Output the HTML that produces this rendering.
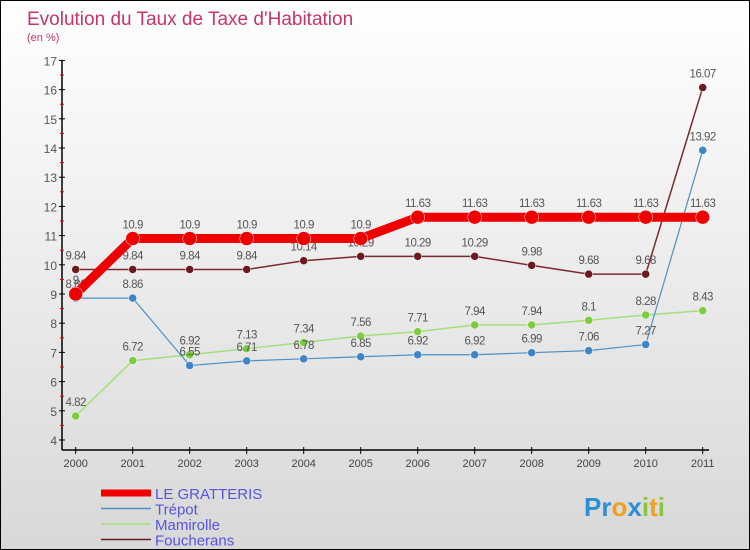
<!DOCTYPE html>
<html><head><meta charset="utf-8"><style>
body{margin:0;}
#c{position:relative;width:748px;height:548px;border:1px solid #000;background:linear-gradient(#fff,#d8d8d8);font-family:"Liberation Sans",sans-serif;overflow:hidden}
</style></head><body>
<div id="c">
<svg id="s" width="748" height="548"></svg>
</div>
<script>
const years=[2000,2001,2002,2003,2004,2005,2006,2007,2008,2009,2010,2011];
const gratteris=[9,10.9,10.9,10.9,10.9,10.9,11.63,11.63,11.63,11.63,11.63,11.63];
const trepot=[8.86,8.86,6.55,6.71,6.78,6.85,6.92,6.92,6.99,7.06,7.27,13.92];
const mamirolle=[4.82,6.72,6.92,7.13,7.34,7.56,7.71,7.94,7.94,8.1,8.28,8.43];
const foucherans=[9.84,9.84,9.84,9.84,10.14,10.29,10.29,10.29,9.98,9.68,9.68,16.07];
const yTicks=[4,5,6,7,8,9,10,11,12,13,14,15,16,17];
const NS="http://www.w3.org/2000/svg";
const s=document.getElementById('s');
const X=i=>74.7+i*57;
const Y=v=>439-(v-4)*29.2;
function el(t,a,txt,name){const e=document.createElementNS(NS,t);for(const k in a)e.setAttribute(k,a[k]);if(txt!==undefined)e.textContent=txt;


s.appendChild(e);return e;}
el('text',{x:26,y:24,fill:'#c8336a','font-size':19},'Evolution du Taux de Taxe d\'Habitation','chart-title');
el('text',{x:26,y:40,fill:'#c8336a','font-size':11},'(en %)','y-unit');
el('line',{x1:61,y1:59,x2:61,y2:449,stroke:'#000','stroke-width':1.5},undefined,'y-axis');
el('line',{x1:61,y1:449,x2:708,y2:449,stroke:'#000','stroke-width':1.5},undefined,'x-axis');
yTicks.forEach(v=>{el('line',{x1:58,y1:Y(v),x2:64,y2:Y(v),stroke:'#000'},undefined,'y-tick');
if(v<17)el('line',{x1:59,y1:Y(v+0.5),x2:63,y2:Y(v+0.5),stroke:'#e00'},undefined,'y-minor-tick');
el('text',{x:56,y:Y(v)+5,'text-anchor':'end','font-size':12,fill:'#555'},v,'y-tick-label');});
years.forEach((yr,i)=>{el('line',{x1:X(i),y1:446,x2:X(i),y2:453,stroke:'#000'},undefined,'x-tick');
el('text',{x:X(i),y:466,'text-anchor':'middle','font-size':11,fill:'#444'},yr,'x-tick-label');});
function series(d,col,pcol,w,r,name){
el('polyline',{points:d.map((v,i)=>X(i)+','+Y(v)).join(' '),fill:'none',stroke:col,'stroke-width':w,'stroke-linejoin':'round'},undefined,name+'-line');
d.forEach((v,i)=>{el('circle',{cx:X(i),cy:Y(v),r:r,fill:pcol,stroke:'#fff','stroke-width':0.5},undefined,name+'-point');
el('text',{x:X(i),y:Y(v)-10,'text-anchor':'middle','font-size':11.5,fill:'#555','letter-spacing':'-0.5'},v,name+'-value-label');});}
series(foucherans,'#7a2a2e','#6b1a1f',1.5,4,'foucherans');
series(mamirolle,'#a3e07a','#7ccc3f',1.5,4,'mamirolle');
series(trepot,'#4a90c8','#3d85c6',1.2,4,'trepot');
series(gratteris,'#ee0000','#ee0000',9,7,'gratteris');
const leg=[['LE GRATTERIS','#ee0000',7],['Trépot','#4a90c8',1.5],['Mamirolle','#a3e07a',1.5],['Foucherans','#6b1a1f',1.5]];
leg.forEach((l,i)=>{const y=492+i*15.5;
el('line',{x1:100,y1:y,x2:150,y2:y,stroke:l[1],'stroke-width':l[2]},undefined,'legend-swatch');
el('text',{x:154,y:y+6,'font-size':15,fill:'#5555dd'},l[0],'legend-entry');});
const p=el('text',{x:583,y:515,'font-size':26,'font-weight':'bold'},'','logo');
[['P','#2b8fd6'],['r','#2b8fd6'],['o','#f0a020'],['x','#2b8fd6'],['i','#8cc43c'],['t','#f0a020'],['i','#8cc43c']].forEach(c=>{const t=document.createElementNS(NS,'tspan');t.setAttribute('fill',c[1]);t.textContent=c[0];p.appendChild(t);});
</script>
</body></html>
